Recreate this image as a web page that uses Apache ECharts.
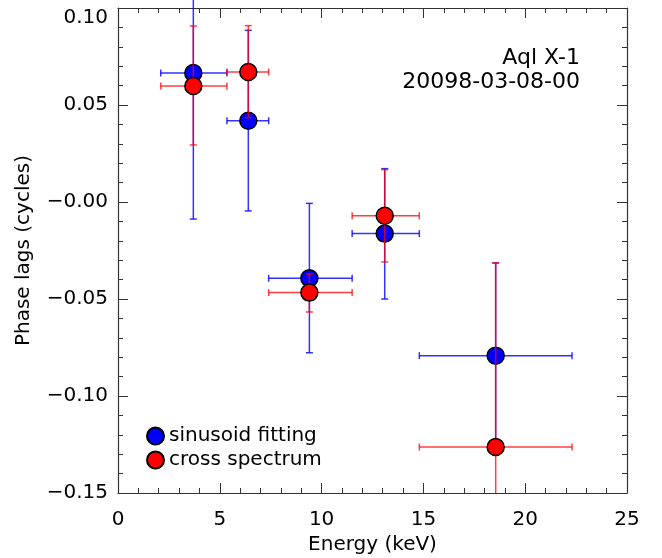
<!DOCTYPE html>
<html>
<head>
<meta charset="utf-8">
<script src="https://cdn.jsdelivr.net/npm/echarts@6/dist/echarts.min.js"></script>
<style>
  html, body { margin: 0; padding: 0; background: #fff; }
  #main { width: 662px; height: 558px; }
</style>
</head>
<body>
<div id="main"></div>
<script>
// energy bins (keV)
const energy = [3.7, 6.4, 9.4, 13.1, 18.55]
const energyLo = [2.1, 5.35, 7.4, 11.5, 14.8]
const energyHi = [5.35, 7.4, 11.5, 14.8, 22.3]

// sinusoid fitting phase lags (cycles)
const sinLag = [0.0665, 0.0419, -0.0393, -0.0163, -0.0792]
const sinErrUp = [0.0753, 0.0466, 0.0386, 0.0335, 0.0478]
const sinErrDn = [0.0753, 0.0465, 0.0384, 0.0337, 0.0478]

// cross spectrum phase lags (cycles)
const crossLag = [0.0598, 0.067, -0.0467, -0.0071, -0.1263]
const crossErrUp = [0.0309, 0.0239, 0.0096, 0.0238, 0.0949]
const crossErrDn = [0.0304, 0.0235, 0.0100, 0.0238, 0.026]

const FONT = 'DejaVu Sans'

function barData(lag, up, dn) {
  return energy.map((e, i) => [e, energyLo[i], energyHi[i], lag[i], lag[i] - dn[i], lag[i] + up[i]])
}

function errorBars(color) {
  return function (params, api) {
    const x = api.value(0), y = api.value(3)
    const l = api.coord([api.value(1), y])
    const r = api.coord([api.value(2), y])
    const t = api.coord([x, api.value(5)])
    const b = api.coord([x, api.value(4)])
    const st = { stroke: color, lineWidth: 1.5 }
    const c = 3.5
    const line = (x1, y1, x2, y2) => ({ type: 'line', shape: { x1, y1, x2, y2 }, style: st })
    return {
      type: 'group',
      children: [
        line(l[0], l[1], r[0], r[1]),
        line(t[0], t[1], b[0], b[1]),
        line(l[0], l[1] - c, l[0], l[1] + c),
        line(r[0], r[1] - c, r[0], r[1] + c),
        line(t[0] - c, t[1], t[0] + c, t[1]),
        line(b[0] - c, b[1], b[0] + c, b[1])
      ]
    }
  }
}

function fmtY(v) {
  if (Math.abs(v) < 1e-9) return '\u22120.00'
  return v.toFixed(2).replace('-', '\u2212')
}

const axisLine = { show: true, onZero: false, lineStyle: { color: '#333', width: 1.2 } }
const tick = { inside: true, length: 10, lineStyle: { color: '#333' } }
const minor = { show: true, splitNumber: 5, length: 5, lineStyle: { color: '#333' } }

const myChart = echarts.init(document.getElementById('main'))
const option = {
  animation: false,
  backgroundColor: '#fff',
  grid: { left: 118, right: 35, top: 8, bottom: 65, outerBoundsMode: 'none' },
  xAxis: [
    {
      type: 'value', min: 0, max: 25, interval: 5, position: 'bottom',
      name: 'Energy (keV)', nameLocation: 'middle', nameGap: 42,
      nameTextStyle: { fontFamily: FONT, fontSize: 20, color: '#000' },
      axisLine, splitLine: { show: false }, axisTick: tick, minorTick: minor,
      axisLabel: { margin: 17, fontFamily: FONT, fontSize: 20, color: '#000' }
    },
    {
      type: 'value', min: 0, max: 25, interval: 5, position: 'top',
      axisLine, splitLine: { show: false }, axisTick: tick, minorTick: minor,
      axisLabel: { show: false }
    }
  ],
  yAxis: [
    {
      type: 'value', min: -0.15, max: 0.10, interval: 0.05, position: 'left',
      name: 'Phase lags (cycles)', nameLocation: 'middle', nameGap: 84,
      nameTextStyle: { fontFamily: FONT, fontSize: 20, color: '#000' },
      axisLine, splitLine: { show: false }, axisTick: tick, minorTick: minor,
      axisLabel: {
        margin: 10, fontFamily: FONT, fontSize: 20, color: '#000', formatter: fmtY,
        verticalAlignMaxLabel: 'top'
      }
    },
    {
      type: 'value', min: -0.15, max: 0.10, interval: 0.05, position: 'right',
      axisLine, splitLine: { show: false }, axisTick: tick, minorTick: minor,
      axisLabel: { show: false }
    }
  ],
  legend: {
    orient: 'vertical', left: 141, top: 421, itemGap: 4,
    itemWidth: 17, itemHeight: 17, icon: 'circle',
    data: ['sinusoid fitting', 'cross spectrum'],
    textStyle: { fontFamily: FONT, fontSize: 20, color: '#000' }
  },
  graphic: [
    { type: 'text', right: 82, top: 47, style: { text: 'Aql X-1', fontFamily: FONT, fontSize: 22, fill: '#000' } },
    { type: 'text', right: 82, top: 71, style: { text: '20098-03-08-00', fontFamily: FONT, fontSize: 22, fill: '#000' } }
  ],
  series: [
    {
      name: 'sinusoid err', type: 'custom', clip: false,
      renderItem: errorBars('rgba(0,0,255,0.8)'),
      encode: { x: [0, 1, 2], y: [3, 4, 5] },
      data: barData(sinLag, sinErrUp, sinErrDn), z: 2
    },
    {
      name: 'sinusoid fitting', type: 'scatter', symbolSize: 17,
      itemStyle: { color: '#0000ff', borderColor: '#000', borderWidth: 1.5, opacity: 1 },
      data: energy.map((e, i) => [e, sinLag[i]]), z: 3
    },
    {
      name: 'cross err', type: 'custom', clip: true,
      renderItem: errorBars('rgba(255,0,0,0.75)'),
      encode: { x: [0, 1, 2], y: [3, 4, 5] },
      data: barData(crossLag, crossErrUp, crossErrDn), z: 4
    },
    {
      name: 'cross spectrum', type: 'scatter', symbolSize: 17,
      itemStyle: { color: '#ff0000', borderColor: '#000', borderWidth: 1.5, opacity: 1 },
      data: energy.map((e, i) => [e, crossLag[i]]), z: 5
    }
  ]
}
myChart.setOption(option)
</script>
</body>
</html>
